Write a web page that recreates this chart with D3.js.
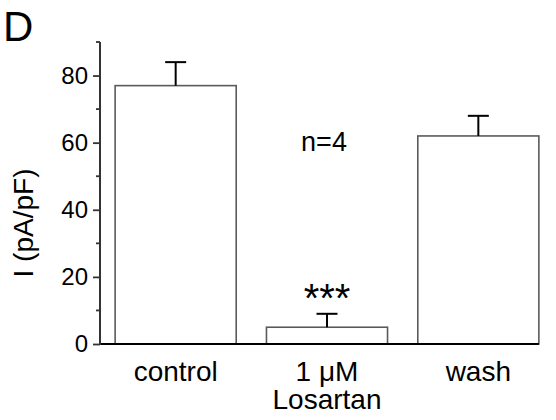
<!DOCTYPE html>
<html>
<head>
<meta charset="utf-8">
<script src="https://cdn.jsdelivr.net/npm/d3@7"></script>
<style>
  html, body { margin: 0; padding: 0; background: #fff; }
  svg { display: block; font-family: "Liberation Sans", Arial, Helvetica, sans-serif; }
</style>
</head>
<body>
<svg id="chart" width="556" height="420"></svg>
<script>
// Current density under each condition (mean and SEM, pA/pF)
const categories = ["control", "1 \u03BCM\nLosartan", "wash"];
const means = [77, 5, 62];
const errors = [7, 4, 6];
const majorTicks = [0, 20, 40, 60, 80];
const minorTicks = [10, 30, 50, 70, 90];
const yLabel = "I (pA/pF)";
const panelLetter = "D";
const nLabel = "n=4";
const sigLabel = "***";
const sigIndex = 1;

const svg = d3.select("#chart");

const x = d3.scaleBand()
  .domain(categories)
  .range([100, 554])
  .paddingInner(0.2)
  .paddingOuter(0.1);

const y = d3.scaleLinear()
  .domain([0, 90])
  .range([344, 42]);

// Panel letter
svg.append("text")
  .attr("x", 3)
  .attr("y", 41)
  .attr("font-size", 42)
  .text(panelLetter);

// Bars
svg.append("g").selectAll("rect")
  .data(categories)
  .join("rect")
  .attr("x", d => x(d))
  .attr("y", (d, i) => y(means[i]))
  .attr("width", x.bandwidth())
  .attr("height", (d, i) => y(0) - y(means[i]))
  .attr("fill", "#fff")
  .attr("stroke", "#5a5a5a")
  .attr("stroke-width", 1.6);

// Upper error bars with caps
const eb = svg.append("g").attr("stroke", "#000").attr("stroke-width", 2);
categories.forEach((c, i) => {
  const cx = x(c) + x.bandwidth() / 2;
  eb.append("line")
    .attr("x1", cx).attr("x2", cx)
    .attr("y1", y(means[i])).attr("y2", y(means[i] + errors[i]));
  eb.append("line")
    .attr("x1", cx - 10.5).attr("x2", cx + 10.5)
    .attr("y1", y(means[i] + errors[i])).attr("y2", y(means[i] + errors[i]));
});

// Baseline
svg.append("line")
  .attr("x1", 100)
  .attr("x2", x(categories[categories.length - 1]) + x.bandwidth())
  .attr("y1", y(0)).attr("y2", y(0))
  .attr("stroke", "#000")
  .attr("stroke-width", 2);

// Y axis with major and minor ticks
const yAxis = d3.axisLeft(y)
  .tickValues(majorTicks)
  .tickSize(7)
  .tickPadding(5)
  .tickFormat(d3.format("d"));
const gy = svg.append("g")
  .attr("transform", "translate(100,0)")
  .call(yAxis);
gy.select(".domain").remove();
gy.selectAll(".tick line").attr("stroke", "#333").attr("stroke-width", 1.8);
gy.selectAll(".tick text")
  .attr("font-size", 24)
  .attr("font-family", "Liberation Sans, Arial, sans-serif")
  .attr("fill", "#000");
gy.append("line")
  .attr("x1", 0).attr("x2", 0)
  .attr("y1", y(0) + 1).attr("y2", y(90))
  .attr("stroke", "#333").attr("stroke-width", 2);
gy.selectAll(".minor")
  .data(minorTicks)
  .join("line")
  .attr("class", "minor")
  .attr("x1", -4).attr("x2", 0)
  .attr("y1", d => y(d)).attr("y2", d => y(d))
  .attr("stroke", "#333").attr("stroke-width", 1.8);

// Category labels, one text element per line
const labelLines = categories.flatMap(c =>
  c.split("\n").map((line, k) => ({ cat: c, line, k })));
svg.append("g").selectAll("text")
  .data(labelLines)
  .join("text")
  .attr("text-anchor", "middle")
  .attr("font-size", 28)
  .attr("x", d => x(d.cat) + x.bandwidth() / 2)
  .attr("y", d => 381 + d.k * 28)
  .text(d => d.line);

// Y axis title
svg.append("text")
  .attr("transform", "translate(33,223) rotate(-90)")
  .attr("text-anchor", "middle")
  .attr("font-size", 28)
  .text(yLabel);

// Sample size
svg.append("text")
  .attr("x", x(categories[1]) + x.bandwidth() / 2 - 3)
  .attr("y", 151)
  .attr("text-anchor", "middle")
  .attr("font-size", 27)
  .text(nLabel);

// Significance marker
svg.append("text")
  .attr("x", x(categories[sigIndex]) + x.bandwidth() / 2)
  .attr("y", 312)
  .attr("text-anchor", "middle")
  .attr("font-size", 40)
  .text(sigLabel);
</script>
</body>
</html>
